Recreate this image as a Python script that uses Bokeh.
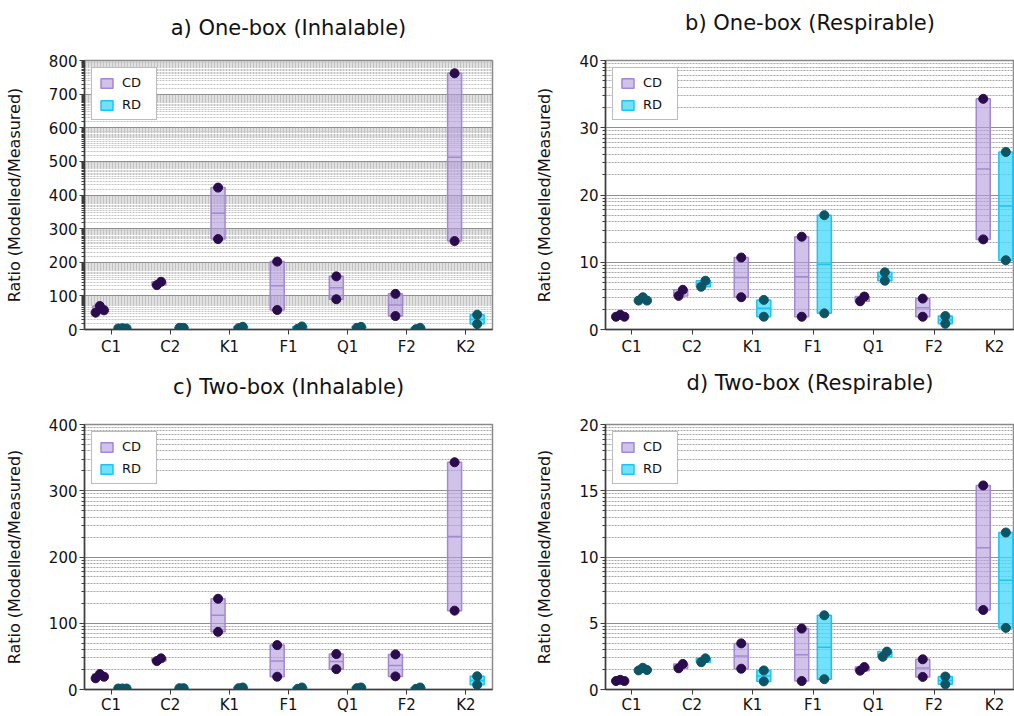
import numpy as np
from bokeh.plotting import figure
from bokeh.layouts import row, column
from bokeh.models import Range1d, FixedTicker, Legend, LegendItem, Title
from bokeh.embed import file_html
from bokeh.resources import INLINE

categories = ["C1", "C2", "K1", "F1", "Q1", "F2", "K2"]

# values per category, listed left to right as drawn
a_cd = [[50, 70, 57], [132, 142], [422, 269], [202, 58], [158, 90], [106, 40], [762, 263]]
a_rd = [[3, 4, 3], [5, 5], [4, 8], [2, 9], [5, 8], [1, 5], [44, 16]]

b_cd = [[1.9, 2.2, 1.9], [5.0, 5.9], [10.7, 4.8], [13.8, 1.9], [4.2, 4.9], [4.6, 1.9], [34.3, 13.4]]
b_rd = [[4.3, 4.8, 4.3], [6.35, 7.25], [4.4, 1.9], [17.0, 2.4], [8.5, 7.25], [2.0, 0.85], [26.4, 10.3]]

c_cd = [[16.9, 23.3, 19.3], [43, 47], [137, 87], [67, 19.3], [53.5, 30.7], [53, 19.8], [343, 119]]
c_rd = [[1.5, 1.6, 1.5], [2, 2], [2, 3], [1, 3], [2, 3], [1, 3], [20, 7]]

d_cd = [[0.64, 0.73, 0.64], [1.6, 1.93], [3.48, 1.57], [4.6, 0.64], [1.42, 1.69], [2.28, 0.95], [15.4, 6.0]]
d_rd = [[1.44, 1.64, 1.47], [2.06, 2.35], [1.44, 0.61], [5.6, 0.78], [2.47, 2.86], [0.98, 0.39], [11.85, 4.65]]

titles = ["a) One-box (Inhalable)", "b) One-box (Respirable)",
          "c) Two-box (Inhalable)", "d) Two-box (Respirable)"]
y_max = [800, 40, 400, 20]
y_step = [100, 10, 100, 5]

FONT = "DejaVu Sans"
CD_FILL, CD_LINE, CD_PT = "#b49ddd", "#a388d2", "#2a0b4b"
RD_FILL, RD_LINE, RD_PT = "#40d8fa", "#1fc3ef", "#0d5465"

# layout: (width, height, left, right, top, bottom, title spacer, title offset, x_lo, x_hi)
layouts = [
    (507, 358, 84, 15, 60, 29, 16, 0, -0.45, 6.45),
    (507, 358, 98, 0, 60, 26, 21, 4, -0.43, 6.33),
    (507, 358, 84, 15, 66, 24, 21, 1, -0.45, 6.45),
    (507, 358, 98, 0, 66, 24, 25, 4, -0.43, 6.33),
]
half_steps = [True, False, False, False]


def make_panel(idx, cd, rd):
    w, h, bl, br, bt, bb, spacer, toff, xlo, xhi = layouts[idx]
    ymax, step = y_max[idx], y_step[idx]
    p = figure(width=w, height=h, output_backend="svg", toolbar_location=None,
               title=None,
               min_border_left=bl, min_border_right=br, min_border_top=bt,
               min_border_bottom=bb, x_range=Range1d(xlo, xhi),
               y_range=Range1d(0, ymax))
    frame_w = w - bl - br
    frame_h = h - bt - bb
    ppu_y = frame_h / ymax
    ppu_x = frame_w / (xhi - xlo)
    jit = 4.2 / ppu_x
    half_w = 7.0 / ppu_x
    offset = 11.3 / ppu_x

    majors = list(np.arange(0, ymax + step / 2, step))
    ks = np.arange(1.5, 10, 0.5) if half_steps[idx] else np.arange(2, 10, 1)
    minors = []
    for base in majors[:-1]:
        for k in ks:
            minors.append(base + step * np.log10(k))

    p.yaxis.ticker = FixedTicker(ticks=majors, minor_ticks=minors)
    p.xaxis.ticker = FixedTicker(ticks=list(range(len(categories))), minor_ticks=[])
    p.xaxis.major_label_overrides = {i: c for i, c in enumerate(categories)}
    p.yaxis.major_label_overrides = {float(m): str(int(m)) for m in majors}

    p.xgrid.visible = False
    p.ygrid.grid_line_color = "#8f8f8f"
    p.ygrid.grid_line_width = 1
    p.ygrid.minor_grid_line_color = "#c2c2c2" if half_steps[idx] else "#a6a6a6"
    p.ygrid.minor_grid_line_dash = "2 1"
    p.ygrid.minor_grid_line_width = 1

    for ax in (p.xaxis, p.yaxis):
        ax.axis_line_color = "#3c3c3c"
        ax.axis_line_width = 1.5
        ax.major_tick_line_color = "#3c3c3c"
        ax.major_tick_in = 0
        ax.major_tick_out = 5
        ax.minor_tick_in = 0
        ax.minor_tick_out = 3
        ax.minor_tick_line_color = "#3c3c3c"
        ax.major_label_text_font = FONT
        ax.major_label_text_font_size = "15px"
        ax.major_label_text_color = "#111111"
    p.yaxis.major_label_standoff = 2
    p.xaxis.major_label_standoff = 3 if idx < 2 else 1
    p.yaxis.axis_label = "Ratio (Modelled/Measured)"
    p.yaxis.axis_label_text_font = FONT
    p.yaxis.axis_label_text_font_size = "16px"
    p.yaxis.axis_label_text_font_style = "normal"
    p.yaxis.axis_label_text_color = "#111111"
    p.yaxis.axis_label_standoff = 22

    p.outline_line_color = "#8a8a8a"
    p.outline_line_width = 1.5

    # invisible spacer nearest the frame, then the real title above it
    p.add_layout(Title(text=" ", text_font_size="1px", standoff=spacer), "above")
    p.add_layout(Title(text=titles[idx], align="center", offset=toff, standoff=4,
                       text_font=FONT, text_font_size="21px", text_font_style="normal",
                       text_color="#111111"), "above")

    renderers = {}
    for series, sign, fill, line, pt in ((cd, -1, CD_FILL, CD_LINE, CD_PT),
                                         (rd, 1, RD_FILL, RD_LINE, RD_PT)):
        left, right, bottom, top, med = [], [], [], [], []
        px, py = [], []
        for i, vals in enumerate(series):
            cx = i + sign * offset
            left.append(cx - half_w)
            right.append(cx + half_w)
            bottom.append(min(vals))
            top.append(max(vals))
            med.append(float(np.median(vals)))
            n = len(vals)
            spread = (max(vals) - min(vals)) * ppu_y
            for j, v in enumerate(vals):
                dx = (j - (n - 1) / 2) * jit if spread < 7.5 else 0.0
                px.append(cx + dx)
                py.append(v)
        q = p.quad(left=left, right=right, bottom=bottom, top=top,
                   fill_color=fill, fill_alpha=0.62 if fill == CD_FILL else 0.75,
                   line_color=line, line_width=1.5)
        p.segment(x0=left, x1=right, y0=med, y1=med, line_color=line, line_width=1.5)
        renderers[pt] = (q, px, py)
    for pt, (q, px, py) in renderers.items():
        p.scatter(px, py, size=9, fill_color=pt, line_color=pt)

    legend = Legend(items=[LegendItem(label="CD", renderers=[renderers[CD_PT][0]]),
                           LegendItem(label="RD", renderers=[renderers[RD_PT][0]])],
                    location="top_left", margin=7, padding=7, spacing=7,
                    glyph_width=15, glyph_height=12, label_height=14, label_width=27,
                    label_standoff=8, label_text_font=FONT, label_text_font_size="13px",
                    label_text_color="#111111",
                    border_line_color="#7a7a7a", border_line_width=1.5,
                    background_fill_color="white", background_fill_alpha=1.0)
    p.add_layout(legend)
    return p


pa = make_panel(0, a_cd, a_rd)
pb = make_panel(1, b_cd, b_rd)
pc = make_panel(2, c_cd, c_rd)
pd_ = make_panel(3, d_cd, d_rd)

layout = column(row(pa, pb), row(pc, pd_))
open("out.html", "w").write(file_html(layout, INLINE))
